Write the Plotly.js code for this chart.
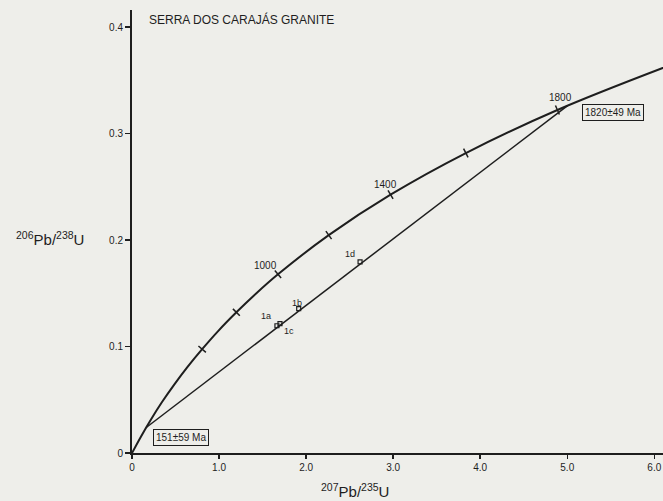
<!DOCTYPE html>
<html>
<head>
<meta charset="utf-8">
<script src="https://cdn.plot.ly/plotly-3.0.1.min.js"></script>
<style>html,body{margin:0;padding:0;background:#eeeeea;}#chart{width:663px;height:501px;}</style>
</head>
<body>
<div id="chart"></div>
<script>
// Concordia curve (age in Ma)
const concordiaAge = [0, 100, 200, 300, 400, 500, 600, 700, 800, 900, 1000, 1200, 1400, 1600, 1800, 2000];
const concordiaX   = [0, 0.104, 0.218, 0.343, 0.483, 0.636, 0.806, 0.992, 1.199, 1.426, 1.677, 2.260, 2.970, 3.835, 4.887, 6.169];
const concordiaY   = [0, 0.0156, 0.0315, 0.0476, 0.0640, 0.0806, 0.0975, 0.1147, 0.1321, 0.1498, 0.1678, 0.2046, 0.2426, 0.2817, 0.3221, 0.3638];

// Age ticks on the concordia
const tickAge = [600, 800, 1000, 1200, 1400, 1600, 1800];
const tickX   = [0.806, 1.199, 1.677, 2.260, 2.970, 3.835, 4.887];
const tickY   = [0.0975, 0.1321, 0.1678, 0.2046, 0.2426, 0.2817, 0.3221];
const tickLabelAge = ["1000", "1400", "1800"];
const tickLabelX   = [1.53, 2.91, 4.92];
const tickLabelY   = [0.1765, 0.252, 0.334];

// Discordia (lower and upper intercepts)
const discordiaX = [0.160, 5.004];
const discordiaY = [0.0237, 0.3262];
const interceptText = ["151±59 Ma", "1820±49 Ma"];
const interceptLabelX = [0.563, 5.52];
const interceptLabelY = [0.015, 0.320];

// Zircon fractions
const sampleName = ["1a", "1c", "1b", "1d"];
const sampleX = [1.665, 1.700, 1.915, 2.620];
const sampleY = [0.1195, 0.1215, 0.1355, 0.1795];
const sampleLabelX = [1.54, 1.80, 1.90, 2.51];
const sampleLabelY = [0.1286, 0.1150, 0.1410, 0.1870];

// Axis ticks
const xTickVals = [0, 1, 2, 3, 4, 5, 6];
const xTickText = ["0", "1.0", "2.0", "3.0", "4.0", "5.0", "6.0"];
const yTickVals = [0, 0.1, 0.2, 0.3, 0.4];
const yTickText = ["0", "0.1", "0.2", "0.3", "0.4"];

const ink = "#1e1e1e";
const font = "Liberation Sans, Arial, sans-serif";
// tick orientation perpendicular to the curve (screen degrees)
const tickAngles = [-49.5, -44.8, -40, -35.5, -31.1, -27.1, -23.4];

const traces = [
  {x: concordiaX, y: concordiaY, mode: "lines", line: {color: ink, width: 2, shape: "spline", smoothing: 1}, hoverinfo: "skip"},
  {x: discordiaX, y: discordiaY, mode: "lines", line: {color: ink, width: 1.5}, hoverinfo: "skip"},
  {x: tickX, y: tickY, text: tickAge, mode: "markers",
   marker: {symbol: "line-ns", size: 7, angle: tickAngles, line: {color: ink, width: 1.5}}, hoverinfo: "text"},
  {x: sampleX, y: sampleY, text: sampleName, mode: "markers",
   marker: {symbol: "square-open", size: 4, color: ink, line: {color: ink, width: 1.2}}, hoverinfo: "text"}
];

const annotations = [];
tickLabelAge.forEach((t, i) => annotations.push({x: tickLabelX[i], y: tickLabelY[i], text: t, showarrow: false,
  font: {family: font, size: 10, color: ink}}));
sampleName.forEach((t, i) => annotations.push({x: sampleLabelX[i], y: sampleLabelY[i], text: t, showarrow: false,
  font: {family: font, size: 9, color: ink}}));
interceptText.forEach((t, i) => annotations.push({x: interceptLabelX[i], y: interceptLabelY[i], text: t, showarrow: false,
  font: {family: font, size: 10, color: ink}, bordercolor: ink, borderwidth: 1, borderpad: 2, bgcolor: "#eeeeea"}));
annotations.push({xref: "paper", yref: "paper", x: 0.028, y: 1.0, xanchor: "left", yanchor: "top",
  text: "SERRA DOS CARAJÁS GRANITE", showarrow: false, font: {family: font, size: 12, color: ink}});
annotations.push({xref: "paper", yref: "paper", x: -0.154, y: 0.485, xanchor: "center", yanchor: "middle",
  text: "<sup>206</sup>Pb/<sup>238</sup>U", showarrow: false, font: {family: font, size: 15, color: ink}});
annotations.push({xref: "paper", yref: "paper", x: 0.42, y: -0.084, xanchor: "center", yanchor: "middle",
  text: "<sup>207</sup>Pb/<sup>235</sup>U", showarrow: false, font: {family: font, size: 15, color: ink}});

const layout = {
  width: 663, height: 501,
  margin: {l: 132, r: 0, t: 10, b: 48},
  paper_bgcolor: "#eeeeea", plot_bgcolor: "#eeeeea",
  showlegend: false,
  xaxis: {range: [0, 6.1], tickvals: xTickVals, ticktext: xTickText, showgrid: false, zeroline: false,
    showline: true, linecolor: ink, linewidth: 2, ticks: "outside", ticklen: 4, tickwidth: 1.5, tickcolor: ink,
    tickfont: {family: font, size: 10, color: ink}},
  yaxis: {range: [0, 0.416], tickvals: yTickVals, ticktext: yTickText, showgrid: false, zeroline: false,
    showline: true, linecolor: ink, linewidth: 2, ticks: "outside", ticklen: 5, tickwidth: 1.5, tickcolor: ink,
    tickfont: {family: font, size: 10, color: ink}},
  annotations: annotations
};

Plotly.newPlot("chart", traces, layout, {displayModeBar: false, staticPlot: true});
</script>
</body>
</html>
